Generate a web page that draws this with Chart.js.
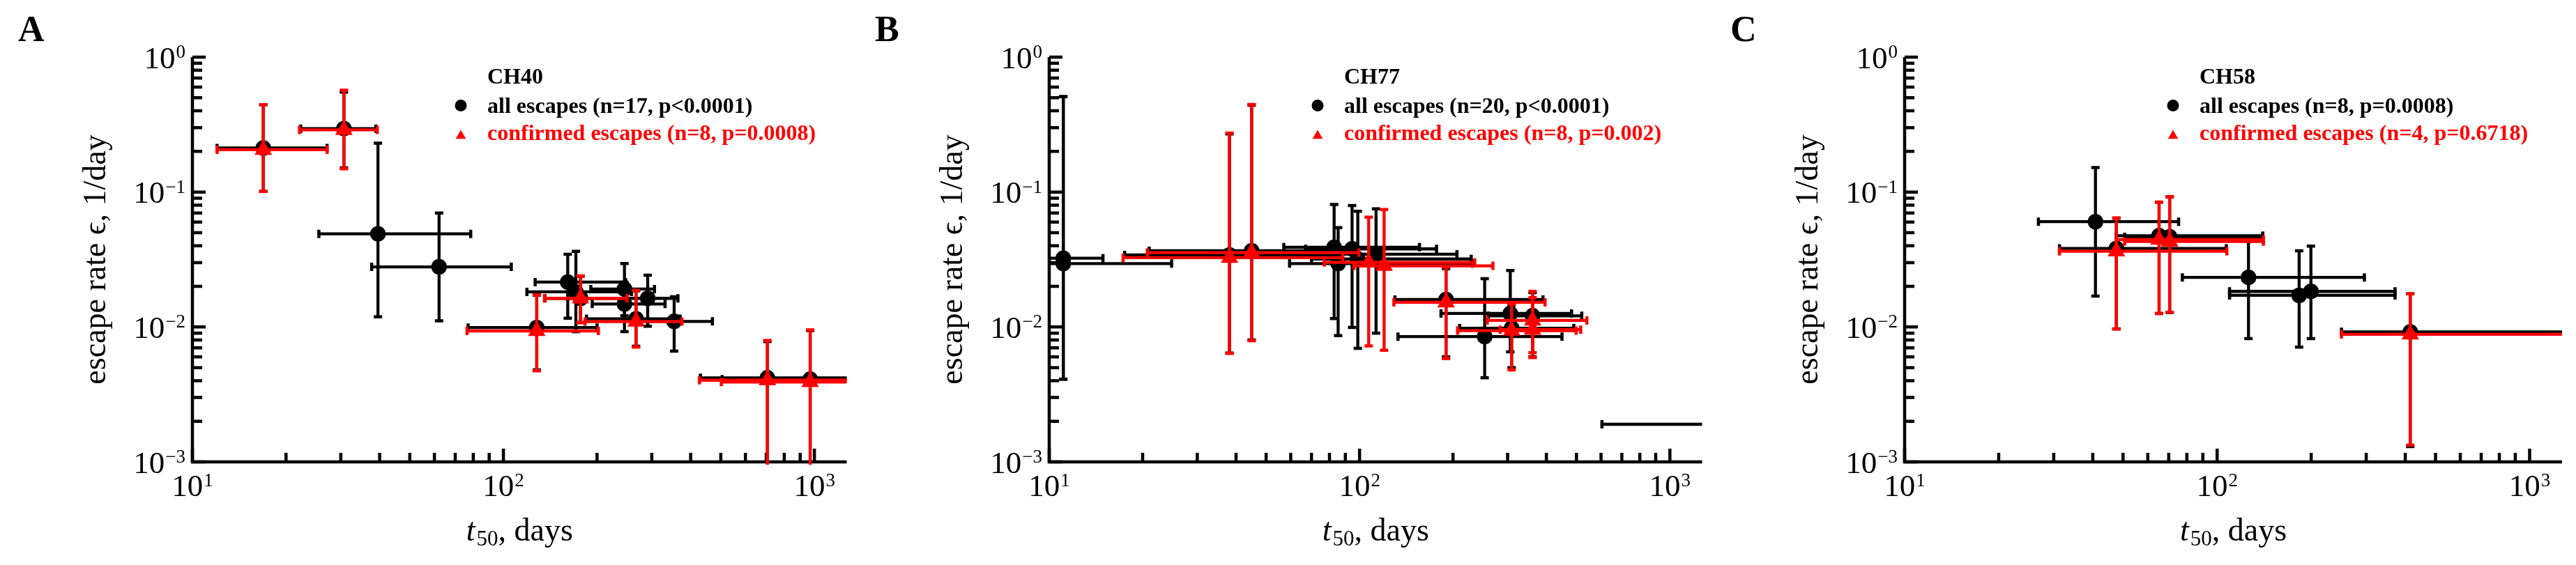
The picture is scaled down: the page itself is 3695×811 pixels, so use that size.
<!DOCTYPE html>
<html>
<head>
<meta charset="utf-8">
<script src="https://cdn.jsdelivr.net/npm/chart.js@4.4.1/dist/chart.umd.min.js"></script>
<style>
  html, body { margin: 0; padding: 0; background: #fff; overflow: hidden; }
  #wrap { position: relative; width: 3695px; height: 811px; }
  canvas { position: absolute; top: 0; }
</style>
</head>
<body>
<div id="wrap">
  <canvas id="chartA" width="1229" height="811" style="left:0px"></canvas>
  <canvas id="chartB" width="1227" height="811" style="left:1229px"></canvas>
  <canvas id="chartC" width="1239" height="811" style="left:2456px"></canvas>
</div>
<script>
// panel text
const panelLetters = ['A', 'B', 'C'];
const patients = ['CH40', 'CH77', 'CH58'];
const allLabels = ['all escapes (n=17, p<0.0001)', 'all escapes (n=20, p<0.0001)', 'all escapes (n=8, p=0.0008)'];
const confirmedLabels = ['confirmed escapes (n=8, p=0.0008)', 'confirmed escapes (n=8, p=0.002)', 'confirmed escapes (n=4, p=0.6718)'];
const xTitleVar = 't', xTitleSub = '50', xTitleRest = ', days';
const yTitle = 'escape rate \u03F5, 1/day';

// axes
const xMin = 10, xMax = 1270, yMin = 0.001, yMax = 1;
const xTickValues = [10, 20, 30, 40, 50, 60, 70, 80, 90, 100, 200, 300, 400, 500, 600, 700, 800, 900, 1000];
const yTickValues = [0.001, 0.002, 0.003, 0.004, 0.005, 0.006, 0.007, 0.008, 0.009,
  0.01, 0.02, 0.03, 0.04, 0.05, 0.06, 0.07, 0.08, 0.09,
  0.1, 0.2, 0.3, 0.4, 0.5, 0.6, 0.7, 0.8, 0.9, 1];
const xMajorTicks = [10, 100, 1000];
const xTickExponents = ['1', '2', '3'];
const yMajorTicks = [1, 0.1, 0.01, 0.001];
const yTickExponents = ['0', '\u22121', '\u22122', '\u22123'];

// CH40
const ch40AllT50 = [16.9, 30.7, 39.5, 62.1, 128, 161, 171, 177, 245, 245, 291, 267, 354, 706, 969];
const ch40AllRate = [0.212, 0.295, 0.049, 0.0279, 0.0099, 0.0215, 0.0182, 0.0163, 0.0191, 0.0148, 0.0163, 0.0115, 0.0110, 0.0042, 0.0041];
const ch40AllT50Ci = [[12.0, 27.1], [22.3, 38.9], [25.5, 78.5], [37.7, 106], [77, 200], [126.5, 247], [119, 258], [136, 249], [191, 306], [193, 331], [246, 364], [185, 370], [291, 470], [430, 1500], [505, 1500]];
const ch40AllRateCi = [[0.101, 0.444], [0.151, 0.55], [0.0119, 0.230], [0.0111, 0.070], [0.0048, 0.0172], [0.01163, 0.0346], [0.00925, 0.0364], [0.0108, 0.0238], [0.0121, 0.0295], [0.00925, 0.0215], [0.01013, 0.0242], [0.0072, 0.0185], [0.00663, 0.01675], [0.0008, 0.0078], [0.0008, 0.0094]];
const ch40ConfT50 = [16.9, 30.7, 128, 177, 267, 706, 969];
const ch40ConfRate = [0.206, 0.289, 0.00935, 0.0163, 0.01096, 0.00403, 0.00391];
const ch40ConfT50Ci = [[12.0, 27.1], [22.1, 39.3], [76.4, 202], [135.5, 249.6], [183, 375], [427, 1500], [502, 1500]];
const ch40ConfRateCi = [[0.101, 0.444], [0.149, 0.568], [0.00473, 0.0173], [0.01075, 0.0239], [0.0071, 0.0187], [0.0008, 0.00793], [0.0008, 0.00953]];

// CH77
const ch77AllT50 = [11.1, 11.1, 38.1, 44.9, 82.8, 85.3, 94.6, 98.7, 113, 190, 253, 306, 309, 361, 1550];
const ch77AllRate = [0.0323, 0.0295, 0.0342, 0.0367, 0.039, 0.0295, 0.0379, 0.0319, 0.0346, 0.01597, 0.00848, 0.0126, 0.0098, 0.0121, 0.0019];
const ch77AllT50Ci = [[8, 14.9], [8, 24.8], [17.5, 88], [21, 99], [57, 156], [59.5, 231], [67, 177], [70, 229], [80, 206], [130, 390], [133, 449], [183, 482], [210, 490], [260, 520], [604, 3000]];
const ch77AllRateCi = [[0.0041, 0.51], [0.0041, 0.51], [0.0064, 0.27], [0.008, 0.44], [0.01154, 0.081], [0.00864, 0.0545], [0.00993, 0.0795], [0.00695, 0.072], [0.009, 0.075], [0.006, 0.027], [0.0042, 0.0228], [0.00655, 0.0262], [0.005, 0.0145], [0.006, 0.018], [0.0009, 0.004]];
const ch77ConfT50 = [38.1, 44.9, 107, 120, 190, 309, 361, 361];
const ch77ConfRate = [0.0326, 0.0356, 0.0301, 0.0284, 0.01523, 0.0094, 0.01118, 0.00955];
const ch77ConfT50Ci = [[17.3, 88.3], [20.7, 99.5], [77, 235], [96, 269], [129, 396], [207, 499], [258, 540], [284, 516]];
const ch77ConfRateCi = [[0.00637, 0.274], [0.00792, 0.446], [0.00723, 0.0652], [0.00673, 0.0743], [0.00582, 0.0278], [0.00481, 0.01476], [0.00593, 0.01835], [0.00644, 0.0165]];

// CH58
const ch58AllT50 = [40.8, 47.6, 65.2, 70.5, 126, 183, 199.6, 415];
const ch58AllRate = [0.0603, 0.0382, 0.0475, 0.0466, 0.0233, 0.01715, 0.01836, 0.0092];
const ch58AllT50Ci = [[26.8, 75.3], [31.3, 107], [47.6, 140], [50.6, 140], [77.4, 296], [109.6, 371], [109.6, 371], [250, 2000]];
const ch58AllRateCi = [[0.01695, 0.1517], [0.0097, 0.064], [0.0126, 0.084], [0.0128, 0.092], [0.0082, 0.043], [0.0071, 0.0367], [0.0082, 0.0397], [0.0013, 0.0176]];
const ch58ConfT50 = [47.6, 65.2, 70.5, 415];
const ch58ConfRate = [0.0364, 0.0444, 0.0430, 0.00882];
const ch58ConfT50Ci = [[31.3, 107.4], [47.6, 140.6], [50.6, 140.6], [250, 2000]];
const ch58ConfRateCi = [[0.00966, 0.0644], [0.0126, 0.0844], [0.01285, 0.0925], [0.00133, 0.0176]];

const black = '#000000';
const red = '#ff0000';
const serif = '"Liberation Serif", "DejaVu Serif", serif';

function isDecade(v) {
    const l = Math.log10(v);
    return Math.abs(l - Math.round(l)) < 1e-9;
}

// axis lines + inward ticks, under the data
const frameAxes = {
    id: 'frameAxes',
    beforeDatasetsDraw(chart) {
        const { ctx, chartArea: a, scales: { x, y } } = chart;
        ctx.save();
        ctx.strokeStyle = black;
        ctx.lineWidth = 4.5;
        ctx.beginPath();
        ctx.moveTo(a.left, a.top);
        ctx.lineTo(a.left, a.bottom + 2.25);
        ctx.moveTo(a.left - 2.25, a.bottom);
        ctx.lineTo(a.right, a.bottom);
        ctx.stroke();
        ctx.beginPath();
        x.ticks.forEach(t => {
            const px = x.getPixelForValue(t.value);
            const len = isDecade(t.value) ? 19 : 13;
            ctx.moveTo(px, a.bottom);
            ctx.lineTo(px, a.bottom - len);
        });
        y.ticks.forEach(t => {
            const py = y.getPixelForValue(t.value);
            const len = isDecade(t.value) ? 19 : 14;
            ctx.moveTo(a.left, py);
            ctx.lineTo(a.left + len, py);
        });
        ctx.stroke();
        ctx.restore();
    }
};

// error bars drawn just before each dataset's markers
const errorBars = {
    id: 'errorBars',
    beforeDatasetDraw(chart, args) {
        const ds = chart.data.datasets[args.index];
        const { ctx, chartArea: a, scales: { x, y } } = chart;
        ctx.save();
        ctx.beginPath();
        ctx.rect(a.left, a.top - 8, a.right - a.left, a.bottom - a.top + 12);
        ctx.clip();
        ctx.strokeStyle = ds.backgroundColor;
        ds.data.forEach((p, i) => {
            const px = x.getPixelForValue(p.x);
            const py = y.getPixelForValue(p.y);
            const x0 = x.getPixelForValue(ds.xCi[i][0]);
            const x1 = x.getPixelForValue(ds.xCi[i][1]);
            const y0 = y.getPixelForValue(ds.yCi[i][0]);
            const y1 = y.getPixelForValue(ds.yCi[i][1]);
            ctx.lineWidth = 4.3;
            ctx.beginPath();
            ctx.moveTo(x0, py); ctx.lineTo(x1, py);
            ctx.moveTo(px, y0); ctx.lineTo(px, y1);
            ctx.stroke();
            ctx.lineWidth = 4.5;
            ctx.beginPath();
            ctx.moveTo(x0, py - 6); ctx.lineTo(x0, py + 6);
            ctx.moveTo(x1, py - 6); ctx.lineTo(x1, py + 6);
            ctx.moveTo(px - 6, y0); ctx.lineTo(px + 6, y0);
            ctx.moveTo(px - 6, y1); ctx.lineTo(px + 6, y1);
            ctx.stroke();
        });
        ctx.restore();
    }
};

// tick labels, titles, legend, panel letter
const textLayer = {
    id: 'textLayer',
    afterDraw(chart, args, opts) {
        const { ctx, chartArea: a, scales: { x, y } } = chart;
        const k = opts.panel;
        ctx.save();
        ctx.fillStyle = black;
        ctx.textBaseline = 'alphabetic';

        ctx.font = 'bold 52px ' + serif;
        ctx.textAlign = 'left';
        ctx.fillText(panelLetters[k], 26, 59);

        // y tick labels 10^n
        ctx.textAlign = 'right';
        yMajorTicks.forEach((v, i) => {
            const py = y.getPixelForValue(v);
            ctx.font = '27px ' + serif;
            const supW = ctx.measureText(yTickExponents[i]).width;
            ctx.fillText(yTickExponents[i], a.left - 10, py + 1);
            ctx.font = '45px ' + serif;
            ctx.fillText('10', a.left - 11 - supW, py + 15.5);
        });

        // x tick labels 10^n
        ctx.textAlign = 'left';
        xMajorTicks.forEach((v, i) => {
            const px = x.getPixelForValue(v);
            ctx.font = '45px ' + serif;
            const mw = ctx.measureText('10').width;
            ctx.font = '27px ' + serif;
            const sw = ctx.measureText(xTickExponents[i]).width;
            const start = px - (mw + 1 + sw) / 2;
            ctx.font = '45px ' + serif;
            ctx.fillText('10', start, a.bottom + 49);
            ctx.font = '27px ' + serif;
            ctx.fillText(xTickExponents[i], start + mw + 1, a.bottom + 35);
        });

        // x title: italic t, subscript 50, ", days"
        ctx.font = 'italic 46px ' + serif;
        const w1 = ctx.measureText(xTitleVar).width;
        ctx.font = '31px ' + serif;
        const w2 = ctx.measureText(xTitleSub).width;
        ctx.font = '46px ' + serif;
        const w3 = ctx.measureText(xTitleRest).width;
        let tx = (a.left + a.right) / 2 - (w1 + 2 + w2 + w3) / 2;
        const tb = a.bottom + 113;
        ctx.font = 'italic 46px ' + serif;
        ctx.fillText(xTitleVar, tx, tb);
        tx += w1 + 2;
        ctx.font = '31px ' + serif;
        ctx.fillText(xTitleSub, tx, tb + 7);
        tx += w2;
        ctx.font = '46px ' + serif;
        ctx.fillText(xTitleRest, tx, tb);

        // y title
        ctx.save();
        ctx.translate(151, (a.top + a.bottom) / 2);
        ctx.rotate(-Math.PI / 2);
        ctx.textAlign = 'center';
        ctx.font = '46px ' + serif;
        ctx.fillText(yTitle, 0, 0);
        ctx.restore();

        // legend
        const mx = a.left + 385, lx = a.left + 423;
        ctx.textAlign = 'left';
        ctx.font = 'bold 32px ' + serif;
        ctx.fillStyle = black;
        ctx.fillText(patients[k], lx, 120);
        ctx.fillText(allLabels[k], lx, 162);
        ctx.beginPath();
        ctx.arc(mx, 151.5, 8.5, 0, Math.PI * 2);
        ctx.fill();
        ctx.fillStyle = red;
        ctx.fillText(confirmedLabels[k], lx, 201);
        const r = 8.5, cy = 195;
        ctx.beginPath();
        ctx.moveTo(mx, cy - r);
        ctx.lineTo(mx + r * Math.sin(2 * Math.PI / 3), cy - r * Math.cos(2 * Math.PI / 3));
        ctx.lineTo(mx + r * Math.sin(4 * Math.PI / 3), cy - r * Math.cos(4 * Math.PI / 3));
        ctx.closePath();
        ctx.fill();

        ctx.restore();
    }
};

function points(xs, ys) {
    return xs.map((v, i) => ({ x: v, y: ys[i] }));
}

function makePanel(canvasId, k, right, allT, allR, allTCi, allRCi, confT, confR, confTCi, confRCi) {
    const canvas = document.getElementById(canvasId);
    new Chart(canvas, {
        type: 'scatter',
        data: {
            datasets: [
                {
                    label: 'confirmed escapes',
                    data: points(confT, confR),
                    xCi: confTCi,
                    yCi: confRCi,
                    backgroundColor: red,
                    borderColor: red,
                    pointStyle: 'triangle',
                    pointRadius: 14.5,
                    pointBorderWidth: 0
                },
                {
                    label: 'all escapes',
                    data: points(allT, allR),
                    xCi: allTCi,
                    yCi: allRCi,
                    backgroundColor: black,
                    borderColor: black,
                    pointStyle: 'circle',
                    pointRadius: 11.2,
                    pointBorderWidth: 0
                }
            ]
        },
        options: {
            responsive: false,
            animation: false,
            devicePixelRatio: 1,
            events: [],
            layout: { padding: { left: 0, top: 82, right: canvas.width - right, bottom: 0 } },
            plugins: {
                legend: { display: false },
                tooltip: { enabled: false },
                textLayer: { panel: k }
            },
            scales: {
                x: {
                    type: 'logarithmic',
                    min: xMin,
                    max: xMax,
                    grid: { display: false },
                    border: { display: false },
                    ticks: { display: false },
                    afterBuildTicks: s => { s.ticks = xTickValues.map(v => ({ value: v })); },
                    afterFit: s => { s.height = 148; }
                },
                y: {
                    type: 'logarithmic',
                    min: yMin,
                    max: yMax,
                    grid: { display: false },
                    border: { display: false },
                    ticks: { display: false },
                    afterBuildTicks: s => { s.ticks = yTickValues.map(v => ({ value: v })); },
                    afterFit: s => { s.width = 276; }
                }
            }
        },
        plugins: [frameAxes, errorBars, textLayer]
    });
}

makePanel('chartA', 0, 1217, ch40AllT50, ch40AllRate, ch40AllT50Ci, ch40AllRateCi, ch40ConfT50, ch40ConfRate, ch40ConfT50Ci, ch40ConfRateCi);
makePanel('chartB', 1, 1218, ch77AllT50, ch77AllRate, ch77AllT50Ci, ch77AllRateCi, ch77ConfT50, ch77ConfRate, ch77ConfT50Ci, ch77ConfRateCi);
makePanel('chartC', 2, 1219, ch58AllT50, ch58AllRate, ch58AllT50Ci, ch58AllRateCi, ch58ConfT50, ch58ConfRate, ch58ConfT50Ci, ch58ConfRateCi);
</script>
</body>
</html>
